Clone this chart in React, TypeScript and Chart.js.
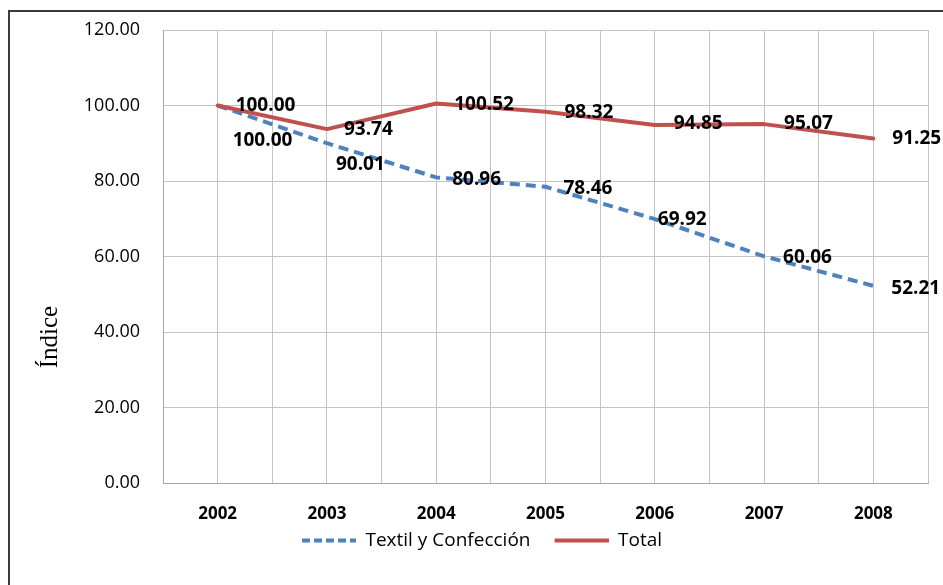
import React, { useEffect, useRef } from "react";
import { Chart, registerables } from "chart.js";

Chart.register(...registerables);

const years = ["2002", "2003", "2004", "2005", "2006", "2007", "2008"];
const textil = [100.0, 90.01, 80.96, 78.46, 69.92, 60.06, 52.21];
const total = [100.0, 93.74, 100.52, 98.32, 94.85, 95.07, 91.25];
const yTicks = [0, 20, 40, 60, 80, 100, 120];

// label placement (pixels relative to the point), styling only
const textilLabelOffsets = [[15, 35], [9, 21], [16, 2], [18, 2], [3, 1], [19, 1], [18, 3]];
const totalLabelOffsets = [[18, 0], [17, 0], [18, 1], [19, 1], [19, -1], [20, -1], [19, 0]];

const BLUE = "#4F81BD";
const RED = "#C0504D";

function legendLine(color: string, dash: number[]) {
  const c = document.createElement("canvas");
  c.width = 72;
  c.height = 6;
  const g = c.getContext("2d")!;
  g.strokeStyle = color;
  g.lineWidth = 4;
  g.setLineDash(dash);
  g.beginPath();
  g.moveTo(18, 3);
  g.lineTo(72, 3);
  g.stroke();
  return c;
}

export default function App() {
  const ref = useRef<HTMLCanvasElement | null>(null);

  useEffect(() => {
    if (!ref.current) return;

    const labelPlugin = {
      id: "valueLabels",
      afterDatasetsDraw(chart: any) {
        const ctx = chart.ctx;
        ctx.save();
        ctx.font = 'bold 19px "Open Sans"';
        ctx.fillStyle = "#000";
        ctx.textAlign = "left";
        ctx.textBaseline = "middle";
        chart.data.datasets.forEach((ds: any, di: number) => {
          const meta = chart.getDatasetMeta(di);
          const offs = ds.label === "Total" ? totalLabelOffsets : textilLabelOffsets;
          meta.data.forEach((el: any, i: number) => {
            const v = ds.data[i].y as number;
            ctx.fillText(v.toFixed(2), el.x + offs[i][0], el.y + offs[i][1]);
          });
        });
        ctx.restore();
      },
    };

    const yTitlePlugin = {
      id: "yTitle",
      afterDraw(chart: any) {
        const ctx = chart.ctx;
        const area = chart.chartArea;
        ctx.save();
        ctx.translate(40, area.top + (area.bottom - area.top) * 0.678);
        ctx.rotate(-Math.PI / 2);
        ctx.font = '25px "Liberation Serif"';
        ctx.fillStyle = "#000";
        ctx.textAlign = "center";
        ctx.textBaseline = "middle";
        ctx.fillText("Índice", 0, 0);
        ctx.restore();
      },
    };

    const chart = new Chart(ref.current, {
      type: "line",
      data: {
        datasets: [
          {
            label: "Total",
            data: years.map((_, i) => ({ x: i, y: total[i] })),
            borderColor: RED,
            backgroundColor: RED,
            borderWidth: 4,
            pointRadius: 0,
            pointStyle: legendLine(RED, []),
            tension: 0,
            borderCapStyle: "round",
            borderJoinStyle: "round",
          },
          {
            label: "Textil y Confección",
            data: years.map((_, i) => ({ x: i, y: textil[i] })),
            borderColor: BLUE,
            backgroundColor: BLUE,
            borderWidth: 4,
            borderDash: [10, 6],
            pointRadius: 0,
            pointStyle: legendLine(BLUE, [8, 4]),
            tension: 0,
          },
        ],
      },
      options: {
        responsive: false,
        animation: false,
        layout: { padding: { left: 8, top: 18, right: 15, bottom: 25 } },
        plugins: {
          tooltip: { enabled: false },
          legend: {
            position: "bottom",
            labels: {
              usePointStyle: true,
              pointStyleWidth: 72,
              padding: 6,
              color: "#000",
              font: { family: '"Open Sans"', size: 19 },
              sort: (a: any, b: any) => b.datasetIndex - a.datasetIndex,
            },
          },
        },
        scales: {
          x: {
            type: "linear",
            min: -0.5,
            max: years.length - 0.5,
            afterFit: (s: any) => {
              s.height = 42;
              s.paddingLeft = 0;
              s.paddingRight = 0;
            },
            ticks: {
              stepSize: 0.5,
              autoSkip: false,
              maxRotation: 0,
              padding: 21,
              color: "#000",
              font: { family: '"Open Sans"', size: 17, weight: "bold" },
              callback: (v: any) => {
                const n = Number(v);
                return Number.isInteger(n) ? years[n] : "";
              },
            },
            grid: { color: "#c4c4c4", lineWidth: 1, drawTicks: false },
            border: { color: "#a6a6a6", width: 1 },
          },
          y: {
            min: 0,
            max: 120,
            afterFit: (s: any) => {
              s.width = 145;
              s.paddingTop = 10;
              s.paddingBottom = 10;
            },
            afterBuildTicks: (s: any) => {
              s.ticks = yTicks.map((v) => ({ value: v }));
            },
            ticks: {
              padding: 23,
              color: "#000",
              font: { family: '"Open Sans"', size: 18 },
              callback: (v: any) => Number(v).toFixed(2),
            },
            grid: { color: "#c4c4c4", lineWidth: 1, drawTicks: false },
            border: { color: "#a6a6a6", width: 1 },
          },
        },
      } as any,
      plugins: [labelPlugin, yTitlePlugin],
    });

    return () => chart.destroy();
  }, []);

  return (
    <div
      style={{
        position: "fixed",
        left: 8,
        top: 10,
        width: 935,
        height: 575,
        boxSizing: "border-box",
        borderTop: "2px solid #3a3a3a",
        borderLeft: "2px solid #3a3a3a",
        background: "#fff",
      }}
    >
      <canvas ref={ref} width={933} height={573} style={{ display: "block" }} />
    </div>
  );
}
